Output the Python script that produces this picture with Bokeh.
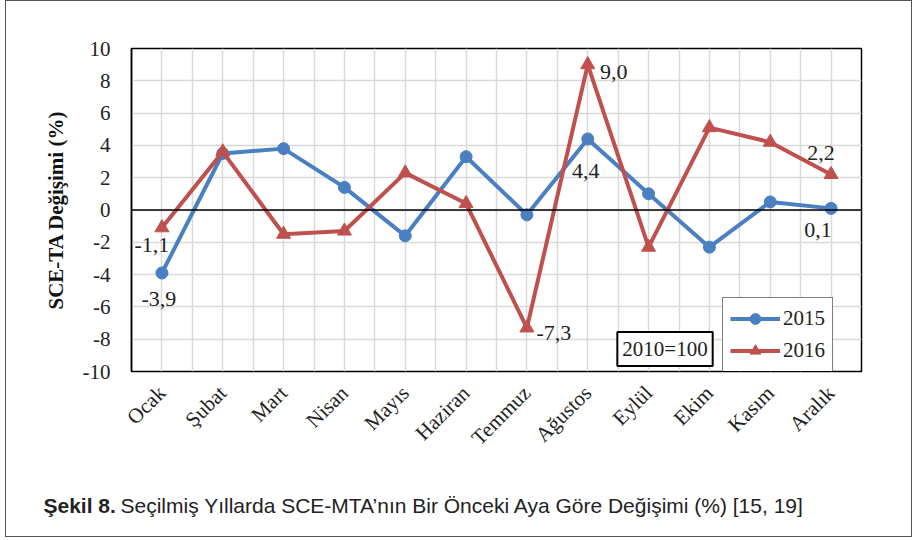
from bokeh.plotting import figure
from bokeh.models import Range1d, FixedTicker, Span, Label, Legend, LegendItem
from bokeh.layouts import column
from bokeh.embed import file_html
from bokeh.resources import INLINE
import math

months = ["Ocak", "Şubat", "Mart", "Nisan", "Mayıs", "Haziran", "Temmuz",
          "Ağustos", "Eylül", "Ekim", "Kasım", "Aralık"]
y2015 = [-3.9, 3.5, 3.8, 1.4, -1.6, 3.3, -0.3, 4.4, 1.0, -2.3, 0.5, 0.1]
y2016 = [-1.1, 3.6, -1.5, -1.3, 2.3, 0.4, -7.3, 9.0, -2.3, 5.1, 4.2, 2.2]
y_ticks = list(range(-10, 11, 2))

# data labels: (month index, pixel dx, pixel dy)
labels_2015 = [(0, -3, -26), (7, -2, -32), (11, -13, -22)]
labels_2016 = [(0, -10, -17), (6, 27, -5), (7, 26, -7), (11, -10, 21)]

caption_bold = "Şekil 8."
caption_rest = "Seçilmiş Yıllarda SCE-MTA’nın Bir Önceki Aya Göre Değişimi (%) [15, 19]"

BLUE = "#4a7fc1"
RED = "#c0504d"
SERIF = "Liberation Serif"
SANS = "Liberation Sans"
TXT = "#222222"

xs = [i + 0.5 for i in range(len(months))]

W = 905
H_MAIN = 470
H_CAP = 65
LEFT = 125

p = figure(width=W, height=H_MAIN, x_range=Range1d(0, 12), y_range=Range1d(-10, 10),
           min_border_left=LEFT, min_border_right=W - LEFT - 730, min_border_top=47,
           min_border_bottom=H_MAIN - 47 - 323,
           output_backend="svg", toolbar_location=None)

p.outline_line_color = "black"
p.outline_line_width = 1.5

# grids
p.ygrid.ticker = FixedTicker(ticks=y_ticks)
p.xgrid.ticker = FixedTicker(ticks=[i * 0.5 for i in range(25)])
p.grid.grid_line_color = "#d9d9d9"
p.grid.grid_line_width = 1.5

# y axis
p.yaxis.ticker = FixedTicker(ticks=y_ticks)
p.yaxis.major_label_overrides = {t: str(t) for t in y_ticks}
p.yaxis.major_tick_line_color = None
p.yaxis.minor_tick_line_color = None
p.yaxis.axis_line_color = "black"
p.yaxis.axis_line_width = 1.5
p.yaxis.major_label_text_font = SERIF
p.yaxis.major_label_text_font_size = "21px"
p.yaxis.major_label_text_color = TXT
p.yaxis.major_label_standoff = 15
p.yaxis.axis_label = "SCE-TA Değişimi (%)"
p.yaxis.axis_label_text_font = SERIF
p.yaxis.axis_label_text_font_style = "bold"
p.yaxis.axis_label_text_font_size = "21px"
p.yaxis.axis_label_text_color = "#111111"
p.yaxis.axis_label_standoff = 12

# x axis
p.xaxis.ticker = FixedTicker(ticks=xs)
p.xaxis.major_label_overrides = {x: m for x, m in zip(xs, months)}
p.xaxis.major_tick_line_color = None
p.xaxis.minor_tick_line_color = None
p.xaxis.axis_line_color = None
p.xaxis.major_label_orientation = math.pi / 4
p.xaxis.major_label_text_font = SERIF
p.xaxis.major_label_text_font_size = "21px"
p.xaxis.major_label_text_color = TXT
p.xaxis.major_label_standoff = 12

p.add_layout(Span(location=0, dimension="width", line_color="black", line_width=1.5))

l1 = p.line(xs, y2015, line_color=BLUE, line_width=4)
s1 = p.scatter(xs, y2015, marker="circle", size=12, fill_color=BLUE, line_color=BLUE)
l2 = p.line(xs, y2016, line_color=RED, line_width=4)
s2 = p.scatter(xs, y2016, marker="triangle", size=14, fill_color=RED, line_color=RED)

def fmt(v):
    return f"{v:.1f}".replace(".", ",")

for vals, lab in ((y2015, labels_2015), (y2016, labels_2016)):
    for i, dx, dy in lab:
        p.add_layout(Label(x=xs[i], y=vals[i], x_offset=dx, y_offset=dy, text=fmt(vals[i]),
                           text_font=SERIF, text_font_size="22px", text_color=TXT,
                           text_align="center", text_baseline="middle"))

legend = Legend(items=[LegendItem(label="2015", renderers=[l1, s1]),
                       LegendItem(label="2016", renderers=[l2, s2])],
                location=(591, -1), border_line_color="black", border_line_width=1.5,
                background_fill_color="white", background_fill_alpha=1,
                label_text_font=SERIF, label_text_font_size="21px", label_text_color=TXT,
                glyph_width=50, glyph_height=27, spacing=5, padding=7, margin=0,
                label_standoff=3)
p.add_layout(legend, "center")

p.add_layout(Label(x=8.77, y=-8.61, text="2010=100", text_font=SERIF, text_font_size="21px",
                   text_color=TXT, text_align="center", text_baseline="middle",
                   border_line_color="black", border_line_width=2,
                   background_fill_color="white", padding=5))

# caption strip (its own figure; data units = pixels)
c = figure(width=W, height=H_CAP, x_range=Range1d(0, W), y_range=Range1d(0, H_CAP),
           min_border=0, output_backend="svg", toolbar_location=None)
c.frame_align = False
c.axis.visible = False
c.grid.visible = False
c.outline_line_color = None
c.add_layout(Label(x=37, y=31, text=caption_bold, text_font=SANS, text_font_style="bold",
                   text_font_size="21px", text_color=TXT, text_baseline="alphabetic"))
c.add_layout(Label(x=114, y=31, text=caption_rest, text_font=SANS, text_font_size="21px",
                   text_color=TXT, text_baseline="alphabetic"))

layout = column(p, c, spacing=0,
                styles={"border": "1px solid #555555", "margin-left": "5px"})

open("out.html", "w").write(file_html(layout, INLINE))
